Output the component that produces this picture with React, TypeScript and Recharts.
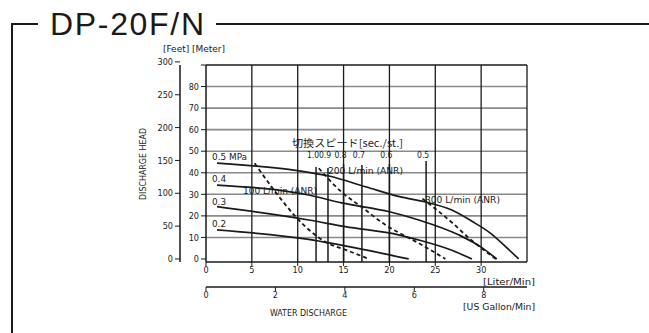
import React from 'react';
import { LineChart, Line, XAxis, YAxis, ReferenceLine, ReferenceDot } from 'recharts';

// flow in L/min, head in m
const mpa05 = [
  { flow: 1.2, head: 44.5 }, { flow: 11.2, head: 40.2 }, { flow: 13.4, head: 38.5 },
  { flow: 17.4, head: 33.5 }, { flow: 21.1, head: 28.9 }, { flow: 23.8, head: 26.6 },
  { flow: 26.8, head: 22.7 }, { flow: 29, head: 17.5 }, { flow: 31, head: 12 },
  { flow: 32.6, head: 6 }, { flow: 34.1, head: 0 },
];
const mpa04 = [
  { flow: 1.2, head: 34.3 }, { flow: 11.2, head: 29.7 }, { flow: 14.8, head: 26 },
  { flow: 20, head: 21.9 }, { flow: 23.2, head: 18.1 }, { flow: 27.6, head: 11.1 },
  { flow: 30, head: 5.5 }, { flow: 31.7, head: 0 },
];
const mpa03 = [
  { flow: 1.2, head: 24.3 }, { flow: 11.2, head: 18.1 }, { flow: 15.2, head: 15 },
  { flow: 21.1, head: 11.1 }, { flow: 23.2, head: 8.8 }, { flow: 26.5, head: 4.5 },
  { flow: 29, head: 0 },
];
const mpa02 = [
  { flow: 1.2, head: 13.5 }, { flow: 11.2, head: 9.1 }, { flow: 17.4, head: 4.2 },
  { flow: 22.1, head: 0 },
];
const air100 = [
  { flow: 5.3, head: 44.4 }, { flow: 7.5, head: 31.5 }, { flow: 9.8, head: 19.5 },
  { flow: 11.5, head: 12.5 }, { flow: 13, head: 8 }, { flow: 15.5, head: 3.8 },
  { flow: 17.8, head: 0 },
];
const air200 = [
  { flow: 12.3, head: 42.1 }, { flow: 14.8, head: 31 }, { flow: 17, head: 24 },
  { flow: 19.5, head: 16 }, { flow: 22, head: 10 }, { flow: 23.2, head: 7.3 },
  { flow: 26.1, head: 0 },
];
const air300 = [
  { flow: 23.6, head: 28 }, { flow: 26.9, head: 16.6 }, { flow: 28.7, head: 9.6 },
  { flow: 31.6, head: 0 },
];

const speedLabels = ['1.0', '0.9', '0.8', '0.7', '0.6', '0.5'];
const speedFlows = [12, 13.3, 15, 17, 20, 24];
const speedTops = [42.7, 42.2, 44, 43.6, 44, 45.5];
const speedLabelHead = 48.3;

const meterTicks = [0, 10, 20, 30, 40, 50, 60, 70, 80, 90];
const feetTicks = [0, 50, 100, 150, 200, 250, 300];
const literTicks = [0, 5, 10, 15, 20, 25, 30];
const gallonTicks = [0, 2, 4, 6, 8];
const gridLiters = [5, 10, 15, 20, 25, 30, 35];
const gridMeters = [10, 20, 30, 40, 50, 60, 70, 80, 90];

const FT_PER_M = 3.2808;
const L_PER_GAL = 3.785;
const HEAD_MIN = -1.4;
const HEAD_MAX = 90;
const FLOW_MAX = 35;

const INK = '#1a1a1a';
const SMALL = '"DejaVu Sans Condensed", "Liberation Sans Narrow", "DejaVu Sans", sans-serif';
const JP = '"Noto Sans CJK JP", sans-serif';

const tickStyle = { fontSize: 9, fill: INK, fontFamily: SMALL };
const axisLine = { stroke: INK, strokeWidth: 1.5 };
const overlay: React.CSSProperties = { position: 'absolute', left: 0, top: 0, pointerEvents: 'none' };

// the gallon scale has no series of its own, so give its chart the tick rows
const gallonRows = gallonTicks.map((g) => ({ gal: g }));

const Note = ({ x, y, w, size = 9.5, font = SMALL, children }: any) => (
  <text x={x} y={y} fontSize={size} fill={INK} fontFamily={font}
    textLength={w} lengthAdjust="spacingAndGlyphs">{children}</text>
);

export default function App() {
  const curve = (data: any[], key: string, dashed = false) => (
    <Line key={key} data={data} dataKey="head" xAxisId="L" yAxisId="m" type="monotone"
      dot={false} stroke={INK} strokeWidth={dashed ? 1.8 : 1.7}
      strokeDasharray={dashed ? '4 3' : undefined} isAnimationActive={false} />
  );

  return (
    <div style={{ position: 'absolute', left: 0, top: 0, width: 649, height: 333, background: '#fff' }}>
      {/* main plot: L/min against metres */}
      <LineChart width={649} height={333} margin={{ top: 65, right: 122, bottom: 46, left: 180 }}>
        <XAxis xAxisId="L" type="number" dataKey="flow" domain={[0, FLOW_MAX]} ticks={literTicks}
          interval={0} allowDataOverflow height={25} tickSize={4} tickMargin={1}
          axisLine={axisLine} tickLine={{ stroke: INK }} tick={tickStyle} />
        <YAxis yAxisId="m" type="number" domain={[HEAD_MIN, HEAD_MAX]} ticks={meterTicks} interval={0}
          allowDataOverflow width={26} tickSize={5} tickMargin={2}
          tickFormatter={(v: number) => (v === HEAD_MAX ? '' : String(v))}
          axisLine={axisLine} tickLine={{ stroke: INK }} tick={tickStyle} />

        {gridMeters.map((v) => (
          <ReferenceLine key={'h' + v} y={v} xAxisId="L" yAxisId="m"
            stroke={v === HEAD_MAX ? INK : '#8a8a8a'} strokeWidth={1.6} />
        ))}
        {gridLiters.map((v) => (
          <ReferenceLine key={'v' + v} x={v} xAxisId="L" yAxisId="m" stroke={INK} strokeWidth={1.3} />
        ))}
        {speedFlows.map((f, i) => (
          <ReferenceLine key={'s' + i} xAxisId="L" yAxisId="m" stroke={INK} strokeWidth={1.5}
            segment={[{ x: f, y: HEAD_MIN }, { x: f, y: speedTops[i] }]} />
        ))}
        {speedFlows.map((f, i) => (
          <ReferenceDot key={'sl' + i} x={f} y={speedLabelHead} xAxisId="L" yAxisId="m" r={0}
            fill="none" stroke="none"
            label={{ value: speedLabels[i], position: 'center', dx: -3, fontSize: 8.5, fill: INK, fontFamily: SMALL }} />
        ))}

        {curve(mpa05, 'p5')}
        {curve(mpa04, 'p4')}
        {curve(mpa03, 'p3')}
        {curve(mpa02, 'p2')}
        {curve(air100, 'a1', true)}
        {curve(air200, 'a2', true)}
        {curve(air300, 'a3', true)}
      </LineChart>

      {/* feet scale beside the metre scale */}
      <div style={overlay}>
        <LineChart width={649} height={333} margin={{ top: 65, right: 122, bottom: 71, left: 154 }}>
          <YAxis yAxisId="ft" type="number" domain={[HEAD_MIN * FT_PER_M, HEAD_MAX * FT_PER_M]}
            ticks={feetTicks} interval={0} allowDataOverflow width={26} tickSize={5} tickMargin={2}
            axisLine={axisLine} tickLine={{ stroke: INK }} tick={tickStyle} />
        </LineChart>
      </div>

      {/* US gallon scale under the litre scale */}
      <div style={overlay}>
        <LineChart width={649} height={333} data={gallonRows}
          margin={{ top: 65, right: 122, bottom: 26, left: 206 }}>
          <XAxis xAxisId="gal" dataKey="gal" type="number" domain={[0, FLOW_MAX / L_PER_GAL]} ticks={gallonTicks}
            interval={0} allowDataOverflow height={20} tickSize={4} tickMargin={1}
            axisLine={axisLine} tickLine={{ stroke: INK }} tick={tickStyle} />
          <YAxis yAxisId="g" hide domain={[0, 1]} />
          <Line xAxisId="gal" yAxisId="g" dataKey={() => 0} stroke="none" dot={false}
            isAnimationActive={false} />
        </LineChart>
      </div>

      <svg width={649} height={333} style={overlay}>
        <path d="M38 24 H12 V333 M216 24 H649" fill="none" stroke={INK} strokeWidth={2} />
        <text x={50} y={35} fontSize={32} fill={INK} fontFamily="'Liberation Sans', Arial, sans-serif"
          textLength={154}>DP-20F/N</text>

        <Note x={163} y={52} w={62}>[Feet] [Meter]</Note>
        <text transform="translate(146 164) rotate(-90)" textAnchor="middle" fontSize={9} fill={INK}
          fontFamily={SMALL} textLength={72} lengthAdjust="spacingAndGlyphs">DISCHARGE  HEAD</text>

        <Note x={212} y={160} w={35}>0.5 MPa</Note>
        <Note x={212} y={182} w={14}>0.4</Note>
        <Note x={212} y={205} w={14}>0.3</Note>
        <Note x={212} y={227} w={14}>0.2</Note>
        <Note x={243} y={194} w={74}>100 L/min (ANR)</Note>
        <Note x={328} y={174} w={75}>200 L/min (ANR)</Note>
        <Note x={425} y={203} w={75}>300 L/min (ANR)</Note>
        <text x={292} y={147} fontSize={10} fill={INK} fontFamily={JP}
          textLength={111} lengthAdjust="spacingAndGlyphs">切換スピード[sec./st.]</text>

        <Note x={483} y={285} w={52}>[Liter/Min]</Note>
        <Note x={463} y={310} w={72}>[US Gallon/Min]</Note>
        <Note x={270} y={316} w={77}>WATER DISCHARGE</Note>
      </svg>
    </div>
  );
}
